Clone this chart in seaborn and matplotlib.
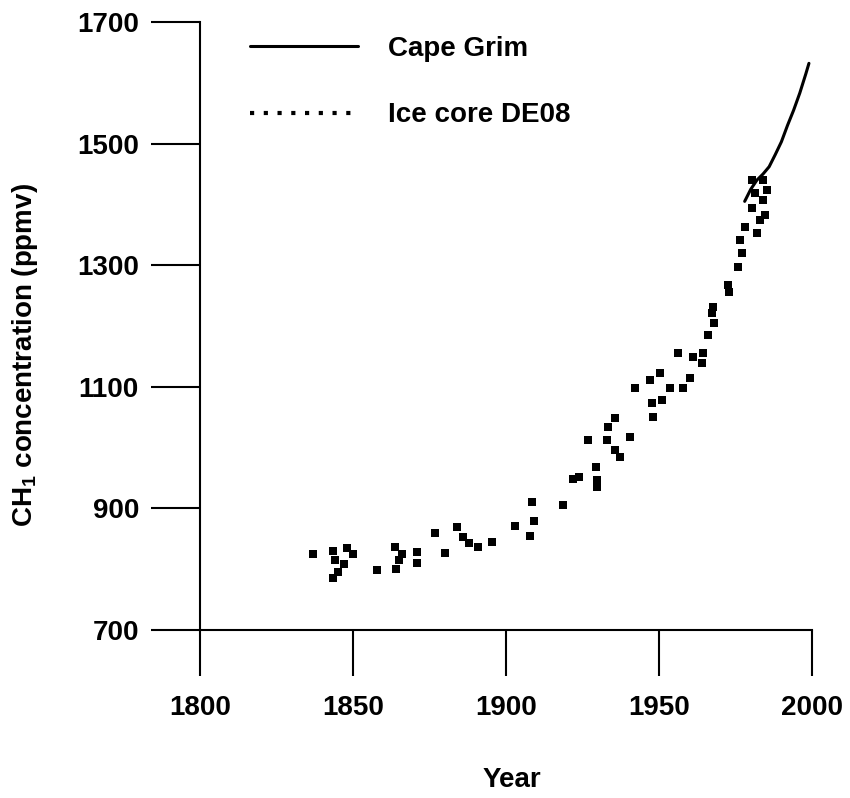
import matplotlib
matplotlib.use("Agg")
import matplotlib.pyplot as plt
from matplotlib.lines import Line2D
import seaborn as sns
import pandas as pd

# Cape Grim record
cape_years = [1978, 1980, 1982, 1984, 1986, 1988, 1990, 1992, 1994, 1996, 1998, 1999]
cape_ch4 = [1405, 1425, 1440, 1450, 1462, 1482, 1503, 1530, 1555, 1583, 1615, 1632]

# Ice core DE08 samples
ice_years = [1837, 1843.5, 1844, 1848, 1850, 1845, 1847, 1843.5, 1858,
             1863.7, 1865, 1864, 1866, 1871, 1871, 1876.8, 1880, 1884, 1886,
             1888, 1891, 1895.4, 1903, 1908, 1908.5, 1909, 1918.6, 1922, 1924,
             1926.8, 1929.4, 1929.7, 1929.7, 1933.3, 1933, 1935.6, 1935.6, 1937.3,
             1940.5, 1942.2, 1947, 1947.7, 1948, 1950.3, 1951, 1953.6, 1957.8,
             1960, 1956.2, 1961, 1964, 1964.4, 1966, 1968, 1967.6, 1967.3,
             1972.5, 1973, 1975.8, 1977, 1976.5, 1978, 1982, 1980.4, 1981.4,
             1980.4, 1984, 1983, 1984, 1984.6, 1985.3]
ice_ch4 = [825, 830, 815, 835, 825, 795, 808, 785, 799,
           836, 815, 800, 825, 828, 810, 860, 827, 869, 853,
           843, 836, 845, 871, 855, 910, 880, 905, 948, 952,
           1012, 968, 947, 935, 1034, 1012, 1049, 996, 985,
           1017, 1098, 1111, 1073, 1050, 1123, 1078, 1098, 1098,
           1114, 1155, 1149, 1139, 1155, 1185, 1205, 1231, 1221,
           1267, 1256, 1297, 1320, 1341, 1363, 1353, 1394, 1419,
           1440, 1440, 1374, 1407, 1382, 1424]

y_ticks = [700, 900, 1100, 1300, 1500, 1700]
x_ticks = [1800, 1850, 1900, 1950, 2000]

sns.set_style("ticks")
plt.rcParams['font.family'] = ['Liberation Sans', 'DejaVu Sans']
plt.rcParams['mathtext.default'] = 'regular'
plt.rcParams['text.color'] = 'black'
plt.rcParams['axes.labelcolor'] = 'black'
plt.rcParams['xtick.color'] = 'black'
plt.rcParams['ytick.color'] = 'black'

fig = plt.figure(figsize=(8.5, 7.98), dpi=100)
ax = fig.add_axes([200/850, 1 - 630/798, 612/850, 608/798])

cape_df = pd.DataFrame({"Year": cape_years, "CH4": cape_ch4})
ice_df = pd.DataFrame({"Year": ice_years, "CH4": ice_ch4})

sns.lineplot(data=cape_df, x="Year", y="CH4", color="black", linewidth=2.2, ax=ax)
sns.scatterplot(data=ice_df, x="Year", y="CH4", color="black", marker="s",
                s=30, linewidth=0, ax=ax)

ax.set_xlim(1800, 2000)
ax.set_ylim(700, 1700)
ax.set_xticks(x_ticks)
ax.set_yticks(y_ticks)
ax.set_xticklabels([str(v) for v in x_ticks], fontsize=20, fontweight='bold')
ax.set_yticklabels([str(v) for v in y_ticks], fontsize=20, fontweight='bold')
ax.tick_params(axis='x', direction='out', length=33, width=1.5, pad=14,
               color='black', labelcolor='black')
ax.tick_params(axis='y', direction='out', length=35, width=1.5, pad=9,
               color='black', labelcolor='black')
for side in ['top', 'right']:
    ax.spines[side].set_visible(False)
for side in ['left', 'bottom']:
    ax.spines[side].set_linewidth(1.5)
    ax.spines[side].set_color('black')

ax.set_xlabel("Year", fontsize=20, fontweight='bold', color='black')
ax.set_ylabel("CH$_1$ concentration (ppmv)", fontsize=20, fontweight='bold', color='black')
ax.xaxis.set_label_coords(0.51, -0.226)
ax.yaxis.set_label_coords(-0.262, 0.452)

handles = [Line2D([], [], color='black', linewidth=2.2),
           Line2D([], [], color='black', linewidth=3, linestyle=(0, (1, 2.3)))]
leg = ax.legend(handles, ["Cape Grim", "Ice core DE08"], loc='upper left',
                bbox_to_anchor=(50/612, 1 - 14/608), frameon=False,
                prop={'family': 'Liberation Sans', 'weight': 'bold', 'size': 20},
                handlelength=3.9, handletextpad=1.05, labelspacing=1.45,
                borderpad=0, borderaxespad=0)
for t in leg.get_texts():
    t.set_color('black')

fig.savefig("out.png", dpi=100)
